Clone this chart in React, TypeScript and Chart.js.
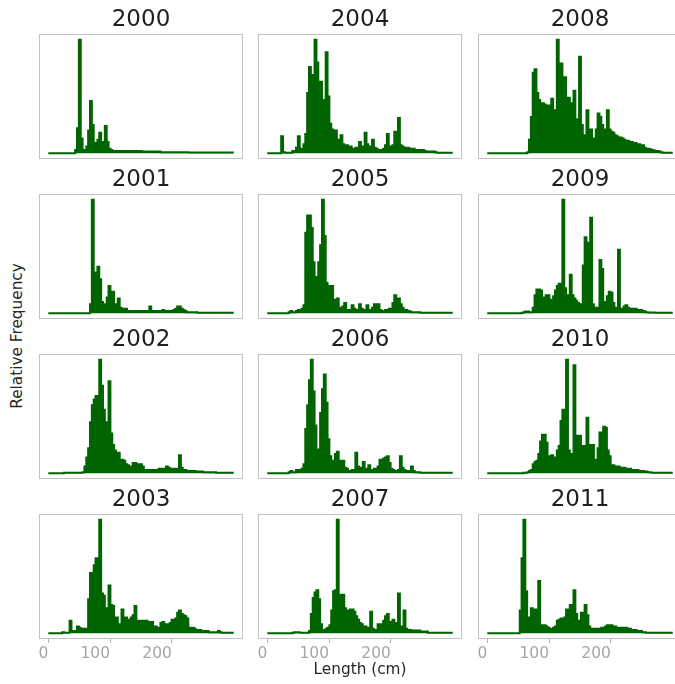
import React, { useEffect, useRef } from 'react';
import { Chart, registerables } from 'chart.js';

Chart.register(...registerables);

// ---- data -------------------------------------------------------------
const YEARS = ['2000', '2001', '2002', '2003', '2004', '2005', '2006', '2007', '2008', '2009', '2010', '2011'];
const BIN_WIDTH = 3; // cm
const BIN_COUNT = 101; // 0 .. 300 cm
const LENGTHS = Array.from({ length: BIN_COUNT }, (_, i) => i * BIN_WIDTH);
const X_TICKS = [0, 100, 200];
const X_MIN = -15;
const X_MAX = 315;

// relative frequency per 3 cm length bin (0, 3, 6, ... 300 cm)
const freq2000 = [
  0, 0, 0, 0, 0, 0, 0, 0, 0, 0,
  0, 0, 0, 0, 0, 3, 22, 100, 13, 3,
  3, 6, 20, 46, 25, 9, 7, 12, 18, 10,
  8, 24, 10, 4, 3, 2, 2, 2, 2, 2,
  2, 2, 2, 2, 2, 2, 2, 2, 2, 2,
  2, 1.5, 1.5, 1.5, 1.5, 1.5, 1.5, 1.5, 1.5, 1.5,
  1.5, 1, 1, 1, 1, 1, 1, 1, 1, 1,
  1, 1, 1, 1, 1, 1, 0.8, 0.8, 0.8, 0.8,
  0.8, 0.8, 0.8, 0.8, 0.8, 0.8, 0.8, 0.8, 0.8, 0.8,
  0.8, 0.8, 0.8, 0.8, 0.8, 0.8, 0.8, 0.8, 0.8, 0.8,
  0.8,
];
const freq2001 = [
  0, 0, 0, 0, 0, 0, 0, 0, 0, 0,
  0, 0, 0, 0, 0, 0, 0, 0, 0, 0,
  0, 0, 0, 8, 100, 16, 36, 41, 30, 10,
  7, 8, 14, 24, 8, 19, 8, 6, 13, 5,
  4, 4, 4, 2, 2, 2, 2, 2, 2, 2,
  2, 2, 2, 2, 2, 6, 2, 2, 2, 2,
  2, 2, 3, 2, 2, 2, 2, 2, 3, 4,
  6, 6, 4, 3, 2, 1, 1, 1, 1, 1,
  1, 0.5, 0.5, 0.5, 0.5, 0.5, 0.5, 0.5, 0.5, 0.5,
  0.5, 0.5, 0.5, 0.5, 0.5, 0.5, 0.5, 0.5, 0.5, 0.5,
  0.5,
];
const freq2002 = [
  0, 0, 0, 0, 0, 0, 0, 0, 0, 0.5,
  0.5, 0.5, 0.5, 0.5, 0.5, 0.5, 0.5, 0.5, 0.5, 1,
  6, 14, 22, 45, 60, 65, 68, 58, 100, 77,
  56, 30, 45, 81, 35, 25, 20, 12, 18, 10,
  12, 11, 8, 7, 6, 6, 9, 9, 8, 8,
  8, 6, 3, 3, 3, 3, 3, 3, 3, 3,
  4, 4, 4, 4, 6, 5, 4, 4, 4, 4,
  4, 16, 5, 3, 3, 2, 2, 2, 2, 2,
  1.5, 1.5, 1.5, 1.5, 1, 1, 1, 1, 1, 1,
  1, 0.5, 0.5, 0.5, 0.5, 0.5, 0.5, 0.5, 0.5, 0.5,
  0.5,
];
const freq2003 = [
  0, 0, 0, 0, 0, 0, 0, 0, 1, 0.5,
  0.5, 0.5, 11, 2, 2, 2, 6, 5, 4, 4,
  3, 4, 30, 53, 50, 60, 66, 31, 100, 35,
  33, 22, 20, 42, 25, 24, 14, 14, 8, 8,
  21, 14, 14, 12, 12, 14, 16, 24, 11, 11,
  11, 10, 11, 11, 9, 10, 10, 6, 6, 5,
  5, 9, 10, 8, 8, 8, 9, 12, 12, 13,
  18, 20, 17, 16, 15, 13, 5, 4, 5, 4,
  3, 3, 3, 2, 2, 2, 2, 1, 1, 1,
  1, 1, 2, 1, 0.5, 0.5, 0.5, 0.5, 0.5, 0.5,
  0.5,
];
const freq2004 = [
  0, 0, 0, 0, 0, 0, 0, 0, 15, 1,
  0.5, 0.5, 0.5, 0.5, 2, 2, 5, 15, 3, 4,
  8, 17, 53, 76, 69, 50, 100, 80, 45, 63,
  26, 47, 89, 50, 26, 21, 20, 20, 12, 9,
  16, 8, 7, 7, 6, 6, 4, 4, 5, 5,
  10, 5, 6, 18, 8, 5, 6, 12, 5, 4,
  3, 3, 3, 4, 7, 17, 5, 6, 7, 19,
  9, 31, 7, 6, 5, 5, 5, 4, 4, 4,
  3, 3, 3, 2, 3, 2, 1.5, 1.5, 1.5, 1.5,
  1.5, 1, 0.5, 0.5, 0.5, 0.5, 0.5, 0.5, 0.5, 0.5,
  0.5,
];
const freq2005 = [
  0, 0, 0, 0, 0, 0, 0, 0, 0, 0,
  0, 0, 1, 2, 1, 1, 2, 3, 2, 4,
  7, 71, 86, 86, 75, 45, 10, 32, 45, 60,
  100, 68, 27, 24, 13, 24, 12, 10, 13, 5,
  4, 6, 9, 3, 3, 3, 7, 4, 3, 3,
  8, 4, 3, 3, 7, 3, 3, 5, 8, 4,
  8, 3, 2, 2, 3, 3, 4, 4, 9, 16,
  13, 13, 8, 5, 3, 3, 2, 1.5, 1, 1,
  1, 1, 1, 0.5, 0.5, 0.5, 0.5, 0.5, 0.5, 0.5,
  0.5, 0.5, 0.5, 0.5, 0.5, 0.5, 0.5, 0.5, 0.5, 0.5,
  0.5,
];
const freq2006 = [
  0, 0, 0, 0, 0, 0, 0, 0, 0, 0,
  0, 0, 1, 2, 1, 1, 3, 3, 3, 4,
  8, 39, 60, 82, 100, 72, 42, 18, 21, 53,
  74, 87, 62, 30, 15, 11, 11, 17, 19, 11,
  10, 11, 5, 4, 2, 2, 3, 3, 18, 6,
  4, 5, 10, 4, 3, 7, 3, 3, 4, 4,
  6, 12, 12, 13, 14, 15, 9, 4, 3, 2,
  2, 3, 15, 5, 3, 2, 2, 2, 6, 2,
  1, 1, 1, 0.5, 0.5, 0.5, 0.5, 0.5, 0.5, 0.5,
  0.5, 0.5, 0.5, 0.5, 0.5, 0.5, 0.5, 0.5, 0.5, 0.5,
  0.5,
];
const freq2007 = [
  0, 0, 0, 0, 0, 0, 0, 0, 0, 0,
  0, 0, 0, 0, 0.5, 1, 1, 1, 0.5, 0.5,
  0.5, 0.5, 0.5, 2, 17, 31, 36, 38, 30, 8,
  3, 3, 4, 5, 7, 20, 37, 38, 100, 34,
  28, 34, 22, 20, 20, 21, 21, 19, 15, 12,
  9, 8, 6, 6, 5, 5, 19, 4, 3, 3,
  8, 4, 8, 11, 15, 17, 10, 4, 12, 9,
  7, 35, 6, 6, 20, 4, 3, 3, 2.5, 2.5,
  2.5, 2.5, 2.5, 1.5, 1.5, 1.5, 1.5, 0.5, 0.5, 0.5,
  0.5, 0.5, 0.5, 0.5, 0.5, 0.5, 0.5, 0.5, 0.5, 0.5,
  0.5,
];
const freq2008 = [
  0, 0, 0, 0, 0, 0, 0, 0, 0, 0,
  0, 0, 0, 0, 0, 0, 0, 0, 0, 0,
  0, 0, 1, 12, 32, 71, 74, 53, 47, 32,
  44, 43, 38, 42, 41, 48, 30, 38, 100, 40,
  79, 59, 67, 40, 49, 44, 36, 55, 29, 30,
  85, 25, 15, 16, 38, 14, 21, 13, 11, 21,
  35, 32, 25, 18, 21, 38, 21, 19, 18, 16,
  15, 14, 14, 13, 12, 11, 11, 10, 10, 9,
  9, 8, 8, 6, 7, 5, 4, 4, 3.5, 3,
  2.5, 2, 2, 1.5, 1, 0.5, 0.5, 0.5, 0.5, 0.5,
  0.5,
];
const freq2009 = [
  0, 0, 0, 0, 0, 0, 0, 0, 0, 0,
  0, 0, 0, 0, 0, 0, 0, 0, 0, 0.5,
  1, 1.5, 1.5, 1, 1, 5, 16, 21, 21, 20,
  13, 14, 16, 16, 11, 12, 15, 20, 24, 26,
  20, 100, 22, 15, 16, 34, 16, 13, 11, 9,
  7, 8, 42, 67, 62, 27, 84, 8, 5, 4,
  5, 47, 39, 10, 10, 15, 19, 18, 9, 5,
  4, 56, 4, 4, 6, 7, 5, 4, 4, 4,
  4, 3, 3, 3, 2, 1.5, 1, 0.7, 0.7, 0.7,
  0.7, 0.5, 0.5, 0.5, 0.5, 0.5, 0.5, 0.5, 0.5, 0.5,
  0.5,
];
const freq2010 = [
  0, 0, 0, 0, 0, 0, 0, 0, 0, 0,
  0, 0, 0, 0, 0, 0, 0, 0, 0, 0,
  0.5, 0.5, 1, 2, 3, 8, 10, 11, 17, 28,
  34, 34, 27, 15, 10, 16, 8, 14, 20, 24,
  46, 56, 30, 100, 20, 17, 12, 95, 12, 33,
  33, 12, 24, 22, 49, 22, 25, 25, 12, 11,
  22, 36, 33, 41, 40, 20, 15, 7, 7, 6,
  6, 6, 5, 5, 5, 4, 4, 4, 3, 3,
  3, 3, 2, 2, 2, 1.5, 1.5, 1, 1, 0.5,
  0.5, 0.5, 0.5, 0.5, 0.5, 0.5, 0.5, 0.5, 0.5, 0.5,
  0.5,
];
const freq2011 = [
  0, 0, 0, 0, 0, 0, 0, 0, 0, 0,
  0, 0, 0, 0, 0, 0, 0, 0, 20, 66,
  100, 37, 14, 3, 22, 4, 21, 4, 46, 4,
  7, 7, 6, 5, 4, 4, 5, 6, 11, 12,
  13, 11, 14, 21, 15, 25, 25, 38, 17, 9,
  11, 18, 12, 25, 16, 6, 4, 4, 4, 4,
  4, 4, 5, 5, 6, 7, 7, 7, 6, 6,
  5, 5, 4, 5, 5, 5, 4, 4, 3, 3,
  3, 2, 2, 2, 1, 1, 0.5, 0.5, 0.5, 0.5,
  0.5, 0.5, 0.5, 0.5, 0.5, 0.5, 0.5, 0.5, 0.5, 0.5,
  0.5,
];

const SERIES = [
  freq2000, freq2001, freq2002, freq2003,
  freq2004, freq2005, freq2006, freq2007,
  freq2008, freq2009, freq2010, freq2011,
];

// ---- layout / style ---------------------------------------------------
const GREEN = '#006400';
const FONT = 'DejaVu Sans';
const COL_LEFT = [37, 256, 476]; // canvas left (plot box starts 2px in)
const ROW_TOP = [4, 164, 324, 484]; // canvas top (plot box starts 30px in)
const CANVAS_W = 208;
const PLOT_H = 125;
const TITLE_BLOCK = 30;
const AXIS_H = 44;

const framePlugin = {
  id: 'frame',
  afterDraw(chart: any) {
    const { ctx, chartArea: a } = chart;
    ctx.save();
    ctx.strokeStyle = '#c2c2c2';
    ctx.lineWidth = 1;
    ctx.strokeRect(a.left + 0.5, a.top + 0.5, a.right - a.left - 1, a.bottom - a.top - 1);
    ctx.restore();
  },
};

function Panel({ index }: { index: number }) {
  const ref = useRef<HTMLCanvasElement>(null);
  const col = Math.floor(index / 4);
  const row = index % 4;
  const isBottom = row === 3;
  const height = TITLE_BLOCK + PLOT_H + (isBottom ? AXIS_H : 2);

  useEffect(() => {
    const values = SERIES[index];
    const max = Math.max(...values);
    const xScale: any = {
      type: 'linear',
      min: X_MIN,
      max: X_MAX,
      display: isBottom,
      afterBuildTicks: (s: any) => {
        s.ticks = X_TICKS.map((v) => ({ value: v }));
      },
      grid: {
        display: true,
        drawOnChartArea: false,
        drawTicks: true,
        tickLength: 4,
        color: '#b4b4b4',
        lineWidth: 1,
      },
      border: { display: false },
      ticks: {
        color: '#a6a6a6',
        font: { family: FONT, size: 15.5 },
        padding: 2,
        align: 'end',
        maxRotation: 0,
        autoSkip: false,
      },
      title: {
        display: isBottom && col === 1,
        text: 'Length (cm)',
        color: '#262626',
        font: { family: FONT, size: 15.3 },
        padding: { top: 0, bottom: 4 },
      },
    };
    if (isBottom) {
      xScale.afterFit = (s: any) => {
        s.height = AXIS_H;
        s.paddingLeft = 0;
        s.paddingRight = 0;
      };
    }
    const chart = new Chart(ref.current as HTMLCanvasElement, {
      type: 'line',
      data: {
        datasets: [
          {
            data: values.map((v, i) => ({ x: LENGTHS[i], y: v })),
            borderColor: GREEN,
            backgroundColor: GREEN,
            borderWidth: 2,
            fill: 'origin',
            pointRadius: 0,
            stepped: 'middle',
          },
        ],
      },
      options: {
        animation: false,
        responsive: false,
        maintainAspectRatio: false,
        events: [],
        layout: { padding: { left: 2, right: 2, top: 2, bottom: isBottom ? 0 : 2 } },
        plugins: {
          legend: { display: false },
          tooltip: { enabled: false },
          title: {
            display: true,
            text: YEARS[index],
            color: '#1f1f1f',
            font: { family: FONT, size: 23, weight: 'normal' },
            padding: { top: 0, bottom: 0.4 },
          },
        },
        scales: {
          x: xScale,
          y: {
            display: false,
            min: -0.05 * max,
            max: 1.05 * max,
          },
        },
      },
      plugins: [framePlugin],
    } as any);
    return () => chart.destroy();
  }, [index]);

  return (
    <canvas
      ref={ref}
      width={CANVAS_W}
      height={height}
      style={{
        position: 'absolute',
        left: COL_LEFT[col],
        top: ROW_TOP[row],
        width: CANVAS_W,
        height,
        display: 'block',
      }}
    />
  );
}

export default function App() {
  return (
    <div
      style={{
        position: 'absolute',
        left: 0,
        top: 0,
        width: 675,
        height: 684,
        overflow: 'hidden',
        background: '#ffffff',
      }}
    >
      {YEARS.map((y, i) => (
        <Panel key={y} index={i} />
      ))}
      <div
        style={{
          position: 'absolute',
          left: 18,
          top: 336,
          transform: 'translate(-50%, -50%) rotate(-90deg)',
          whiteSpace: 'nowrap',
          fontFamily: FONT,
          fontSize: 15.3,
          color: '#262626',
          lineHeight: 1,
        }}
      >
        Relative Frequency
      </div>
    </div>
  );
}
